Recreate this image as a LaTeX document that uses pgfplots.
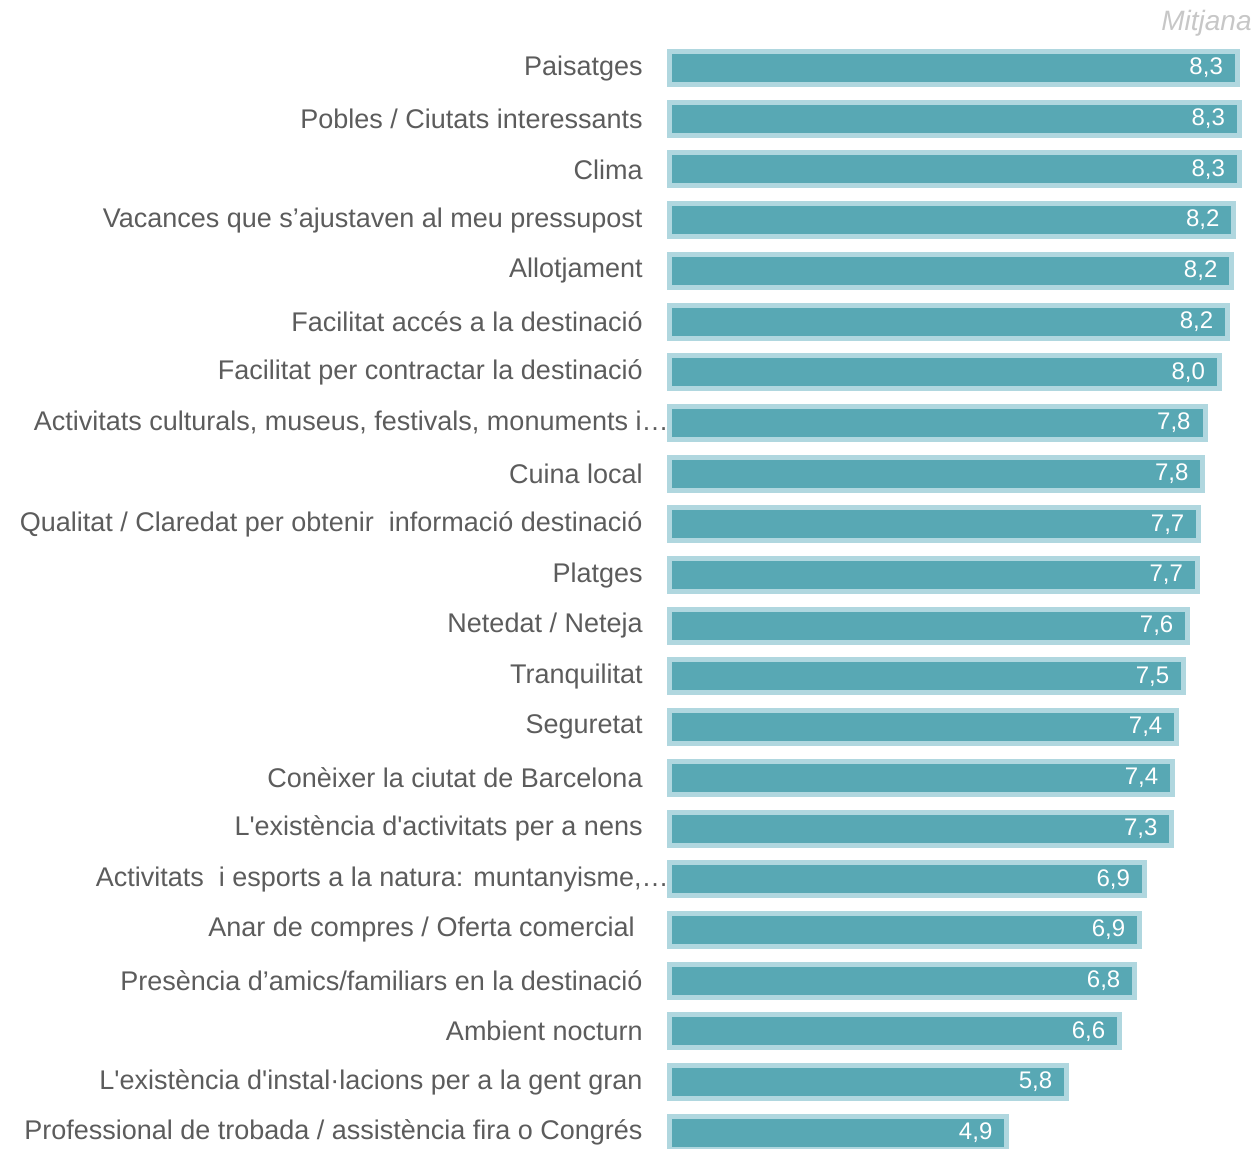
\documentclass[border=0pt]{standalone}
\usepackage{fontspec}
\setmainfont{Liberation Sans}
\usepackage{pgfplots}
\usepackage{pgfplotstable}
\pgfplotsset{compat=1.18}
\definecolor{barteal}{RGB}{88,168,180}
\definecolor{barlight}{RGB}{176,215,223}
\definecolor{labgray}{RGB}{92,92,92}
\pgfplotstableread{
y x lab
0 8.26 8,3
1 8.29 8,3
2 8.29 8,3
3 8.21 8,2
4 8.18 8,2
5 8.12 8,2
6 8.00 8,0
7 7.79 7,8
8 7.76 7,8
9 7.70 7,7
10 7.68 7,7
11 7.54 7,6
12 7.48 7,5
13 7.38 7,4
14 7.32 7,4
15 7.31 7,3
16 6.91 6,9
17 6.84 6,9
18 6.77 6,8
19 6.55 6,6
20 5.78 5,8
21 4.91 4,9
}\datatable
\begin{document}
\begin{tikzpicture}
\begin{axis}[
  at={(334.5pt,-21.325pt)}, anchor=north west,
  scale only axis, width=289pt, height=557.7pt,
  xmin=0, xmax=8.4, ymin=-0.5, ymax=21.5,
  y dir=reverse,
  axis line style={draw=none},
  xtick=\empty,
  ytick={0,...,21},
  major tick length=0pt,
  ytick style={draw=none},
  yticklabels={
    Paisatges,
    Pobles / Ciutats interessants,
    Clima,
    Vacances que s’ajustaven al meu pressupost,
    Allotjament,
    Facilitat accés a la destinació,
    Facilitat per contractar la destinació,
    {Activitats culturals, museus, festivals, monuments i…\kern-13pt},
    Cuina local,
    Qualitat / Claredat per obtenir\ \ informació destinació,
    Platges,
    Netedat / Neteja,
    Tranquilitat,
    Seguretat,
    Conèixer la ciutat de Barcelona,
    L\textquotesingle existència d\textquotesingle activitats per a nens,
    {Activitats\ \ i esports a la natura: muntanyisme,…\kern-13pt},
    Anar de compres / Oferta comercial\kern4pt,
    Presència d’amics/familiars en la destinació,
    Ambient nocturn,
    L\textquotesingle existència d\textquotesingle instal·lacions per a la gent gran,
    Professional de trobada / assistència fira o Congrés
  },
  yticklabel style={anchor=east, inner sep=0pt, xshift=-13pt,
    font=\fontsize{13.5}{15}\selectfont, text=labgray},
  clip=false,
]
\addplot[xbar, fill=barteal, draw=barlight, line width=2.5pt, bar width=16.5pt,
  point meta=explicit symbolic,
  nodes near coords,
  every node near coord/.append style={anchor=east, inner sep=0pt, xshift=-6pt,
    text=white, font=\fontsize{12}{14}\selectfont}]
  table[x=x, y=y, meta=lab]{\datatable};
\end{axis}
\node[anchor=base east, inner sep=0pt, text=black!22, font=\fontsize{14}{16}\selectfont\itshape] at (626pt,-15pt) {Mitjana};
\pgfresetboundingbox
\path (0,0) rectangle (629pt,-574pt);
\end{tikzpicture}
\end{document}
